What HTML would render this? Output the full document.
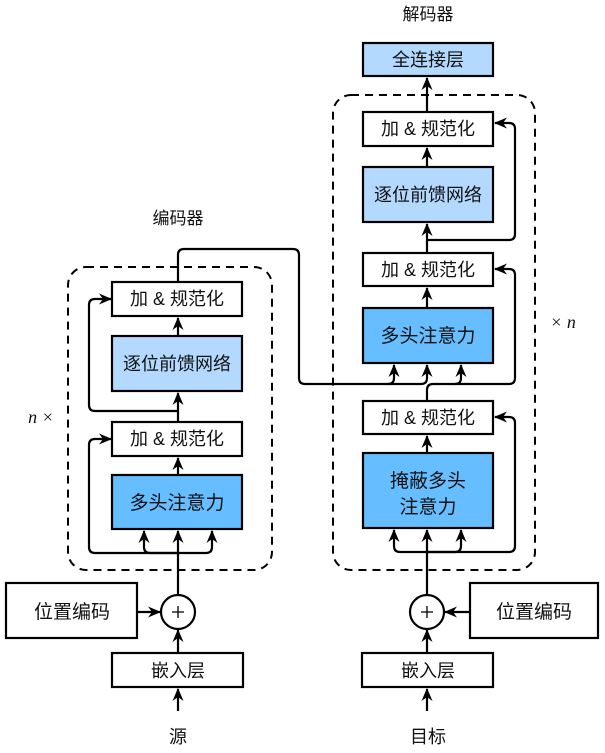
<!DOCTYPE html>
<html><head><meta charset="utf-8"><style>
html,body{margin:0;padding:0;background:#fff}
text{font-family:"Liberation Sans","Noto Sans CJK SC",sans-serif;fill:#111;font-size:18px;text-anchor:middle}
text.b{font-size:19px}
text.s{font-size:17px}
text.i{font-family:"Liberation Serif","DejaVu Serif",serif;font-style:italic;font-size:18px}
</style></head><body>
<svg width="605" height="748" viewBox="0 0 605 748" xmlns="http://www.w3.org/2000/svg">
<defs>
<marker id="a" markerUnits="userSpaceOnUse" markerWidth="14" markerHeight="14" refX="12" refY="7" orient="auto">
<path d="M0,1.5 L13,7 L0,12.5 L4,7 z" fill="#000"/>
</marker>
</defs>
<g fill="none" stroke="#000" stroke-width="2" stroke-dasharray="8,6">
<rect x="68" y="267" width="204" height="303" rx="18"/>
<rect x="333" y="95" width="202" height="475" rx="18"/>
</g>
<g stroke="#000" stroke-width="2.2">
<rect x="112" y="282" width="130" height="34" fill="#fff"/>
<rect x="112" y="336" width="130" height="55" fill="#b3d9ff"/>
<rect x="112" y="422" width="130" height="34" fill="#fff"/>
<rect x="112" y="475" width="130" height="54" fill="#66bdff"/>
<rect x="363" y="43" width="130" height="33" fill="#b3d9ff"/>
<rect x="363" y="112" width="130" height="34" fill="#fff"/>
<rect x="363" y="167" width="130" height="55" fill="#b3d9ff"/>
<rect x="363" y="253" width="130" height="33" fill="#fff"/>
<rect x="363" y="308" width="130" height="55" fill="#66bdff"/>
<rect x="363" y="401" width="130" height="33" fill="#fff"/>
<rect x="363" y="453" width="130" height="75" fill="#66bdff"/>
<rect x="6" y="583" width="131" height="55" fill="#fff"/>
<rect x="112" y="653" width="131" height="34" fill="#fff"/>
<rect x="470" y="583" width="128" height="55" fill="#fff"/>
<rect x="362" y="653" width="131" height="34" fill="#fff"/>
<circle cx="178" cy="612" r="17" fill="#fff"/>
<circle cx="427" cy="612" r="17" fill="#fff"/>
</g>
<g fill="none" stroke="#000" stroke-width="2.2" marker-end="url(#a)">
<path d="M178 595 V531"/>
<path d="M178 553 H95 Q89 553 89 547 V445 Q89 439 95 439 H111"/>
<path d="M178 553 H150 Q144 553 144 547 V531"/>
<path d="M178 553 H206 Q212 553 212 547 V531"/>
<path d="M178 475 V458"/>
<path d="M178 422 V393"/>
<path d="M178 411 H95 Q89 411 89 405 V305 Q89 299 95 299 H111"/>
<path d="M178 336 V318"/>
<path d="M178 282 V255 Q178 249 184 249 H293 Q299 249 299 255 V378 Q299 384 305 384 H388 Q394 384 394 378 V365"/>
<path d="M388 384 H421 Q427 384 427 378 V365"/>
<path d="M427 595 V530"/>
<path d="M427 552 H400 Q394 552 394 546 V530"/>
<path d="M427 552 H455 Q461 552 461 546 V530"/>
<path d="M427 552 H509 Q515 552 515 546 V423 Q515 417 509 417 H495"/>
<path d="M427 453 V436"/>
<path d="M427 401 V390 Q427 384 433 384 H455 Q461 384 461 378 V365"/>
<path d="M455 384 H509 Q515 384 515 378 V275 Q515 269 509 269 H495"/>
<path d="M427 308 V288"/>
<path d="M427 253 V224"/>
<path d="M427 240 H509 Q515 240 515 234 V129 Q515 123 509 123 H495"/>
<path d="M427 167 V148"/>
<path d="M427 112 V78"/>
<path d="M137 612 H160"/>
<path d="M178 653 V630"/>
<path d="M178 711 V689"/>
<path d="M470 612 H445"/>
<path d="M427 653 V630"/>
<path d="M427 711 V689"/>
</g>
<g stroke="#000" stroke-width="1.3">
<path d="M172 612 H184 M178 606 V618"/>
<path d="M421 612 H433 M427 606 V618"/>
</g>
<text x="177" y="305">加 &amp; 规范化</text>
<text x="177" y="370">逐位前馈网络</text>
<text x="177" y="445">加 &amp; 规范化</text>
<text class="b" x="177" y="509">多头注意力</text>
<text x="428" y="66">全连接层</text>
<text x="428" y="135">加 &amp; 规范化</text>
<text x="428" y="201">逐位前馈网络</text>
<text x="428" y="276">加 &amp; 规范化</text>
<text class="b" x="428" y="342">多头注意力</text>
<text x="428" y="424">加 &amp; 规范化</text>
<text class="b" x="428" y="487">掩蔽多头</text>
<text class="b" x="428" y="513">注意力</text>
<text class="b" x="72" y="618">位置编码</text>
<text x="178" y="677">嵌入层</text>
<text class="b" x="534" y="618">位置编码</text>
<text x="428" y="677">嵌入层</text>
<text x="178" y="743">源</text>
<text x="428" y="743">目标</text>
<text class="s" x="178" y="224">编码器</text>
<text class="s" x="428" y="20">解码器</text>
<text class="i" x="41" y="423">n ×</text>
<text class="i" x="563" y="328">× n</text>
</svg>
</body></html>
